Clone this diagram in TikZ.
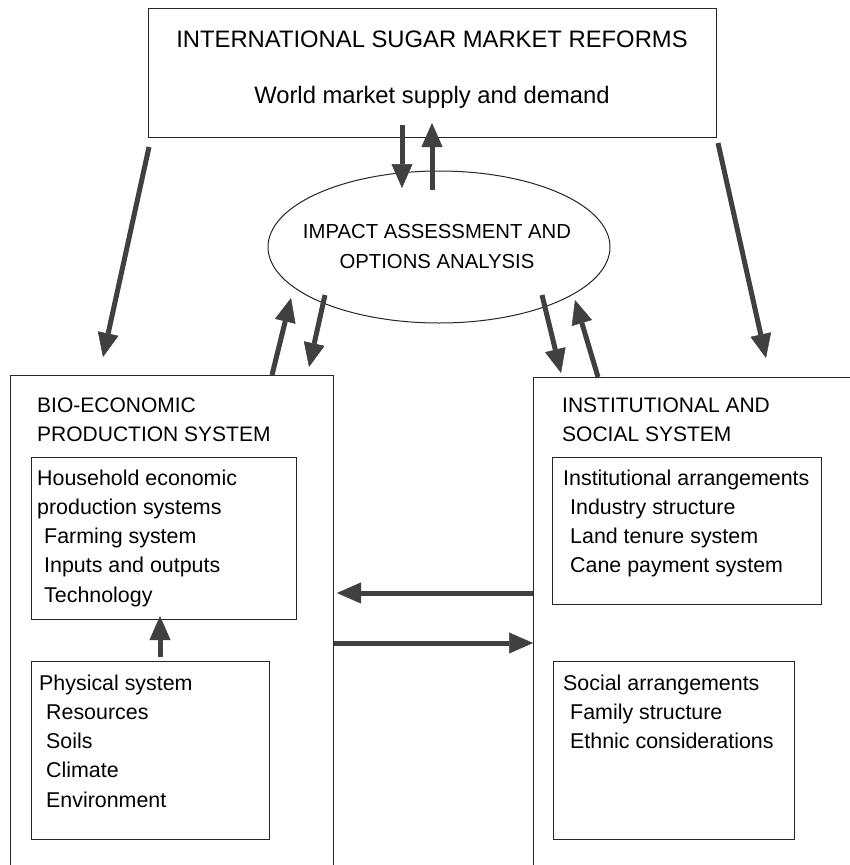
\documentclass[tikz,border=0pt]{standalone}
\usepackage{fontspec}
\setmainfont{Liberation Sans}
\usetikzlibrary{arrows.meta,shapes.geometric,fit}
\newcommand{\stack}[1]{\begin{tabular}[t]{@{}l@{}}#1\end{tabular}}
\newcommand{\cstack}[1]{\begin{tabular}[t]{@{}c@{}}#1\end{tabular}}
\newcommand{\ind}{\hspace*{7pt}}
\begin{document}
\begin{tikzpicture}[x=1pt,y=-1pt,
  box/.style={draw=black!85, line width=1pt, rectangle, inner sep=0pt},
  ttl/.style={font=\fontsize{23.8}{30}\selectfont, inner sep=0pt, anchor=base},
  hdr/.style={font=\fontsize{21}{29}\selectfont, inner sep=0pt, anchor=base west},
  txt/.style={font=\fontsize{21.4}{29.25}\selectfont, inner sep=0pt, anchor=base west},
  ell/.style={font=\fontsize{20.3}{30}\selectfont, inner sep=0pt, anchor=base},
  arr/.style={draw=black!75, line width=5pt, -{Triangle[width=21pt,length=24pt,line width=0.5pt]}},
]
\useasboundingbox (0,0) rectangle (850,865);
\clip (0,0) rectangle (850,865);
\fill[white] (0,0) rectangle (850,865);

% boxes
\node[box, fit={(148,8) (716,137)}] (top) {};
\node[ttl] (toptitle) at (432,47) {INTERNATIONAL SUGAR MARKET REFORMS};
\node[ttl] (topsub) at (432,103) {World market supply and demand};

\node[draw=black!85, line width=1pt, ellipse, minimum width=342pt, minimum height=152pt, inner sep=0pt] (ia) at (439,247) {};
\node[ell] (iatext) at (437,238) {\cstack{IMPACT ASSESSMENT AND\\OPTIONS ANALYSIS}};

\node[box, fit={(10,375) (333,880)}] (bio) {};
\node[hdr] (biotext) at (37,412.5) {\stack{BIO-ECONOMIC\\PRODUCTION SYSTEM}};
\node[box, fit={(31,457) (296,619)}] (house) {};
\node[txt] (housetext) at (37,485) {\stack{Household economic\\production systems\\\ind Farming system\\\ind Inputs and outputs\\\ind Technology}};
\node[box, fit={(31,661) (269,839)}] (phys) {};
\node[txt] (phystext) at (39,690) {\stack{Physical system\\\ind Resources\\\ind Soils\\\ind Climate\\\ind Environment}};

\node[box, fit={(533,377) (880,880)}] (inst) {};
\node[hdr] (insttext) at (562,412.5) {\stack{INSTITUTIONAL AND\\SOCIAL SYSTEM}};
\node[box, fit={(552,457) (821,604)}] (instarr) {};
\node[txt] (instarrtext) at (563,485) {\stack{Institutional arrangements\\\ind Industry structure\\\ind Land tenure system\\\ind Cane payment system}};
\node[box, fit={(553,661) (794,839)}] (soc) {};
\node[txt] (soctext) at (563,690) {\stack{Social arrangements\\\ind Family structure\\\ind Ethnic considerations}};

% arrow end points
\coordinate (tl1) at (149,147);  \coordinate (tl2) at (103,357);
\coordinate (tr1) at (718,143);  \coordinate (tr2) at (766,358);
\coordinate (td1) at (402,125);  \coordinate (td2) at (402,188);
\coordinate (tu1) at (432,190);  \coordinate (tu2) at (432,123);
\coordinate (lu1) at (272,375);  \coordinate (lu2) at (291,298);
\coordinate (ld1) at (325,295);  \coordinate (ld2) at (309,367);
\coordinate (rd1) at (542,295);  \coordinate (rd2) at (561,373);
\coordinate (ru1) at (598,377);  \coordinate (ru2) at (575,300);
\coordinate (h11) at (533,593);  \coordinate (h12) at (337,593);
\coordinate (h21) at (334,643);  \coordinate (h22) at (533,643);
\coordinate (p1) at (160,657);   \coordinate (p2) at (160,616);

\draw[arr] (tl1) -- (tl2);
\draw[arr] (tr1) -- (tr2);
\draw[arr] (td1) -- (td2);
\draw[arr] (tu1) -- (tu2);
\draw[arr] (lu1) -- (lu2);
\draw[arr] (ld1) -- (ld2);
\draw[arr] (rd1) -- (rd2);
\draw[arr] (ru1) -- (ru2);
\draw[arr] (h11) -- (h12);
\draw[arr] (h21) -- (h22);
\draw[arr] (p1) -- (p2);
\end{tikzpicture}
\end{document}
